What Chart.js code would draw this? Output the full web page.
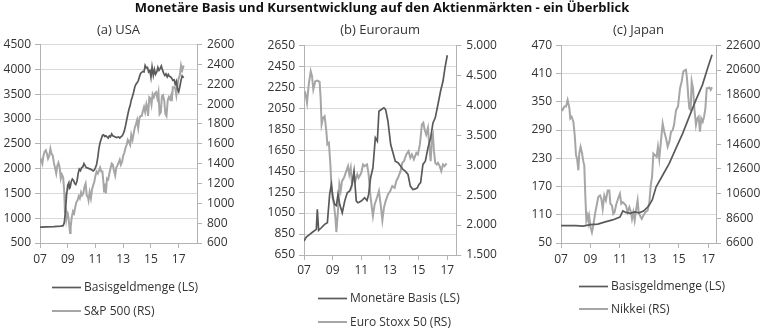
<!DOCTYPE html>
<html>
<head>
<meta charset="utf-8">
<script src="https://cdn.jsdelivr.net/npm/chart.js@4.4.1/dist/chart.umd.min.js"></script>
<style>
  body { margin: 0; background: #fff; width: 764px; height: 329px; overflow: hidden; position: relative; }
  #title { position: absolute; left: 0; top: 0; width: 764px; text-align: center;
           font: bold 13px "Open Sans", sans-serif; line-height: 15px; color: #111; z-index: 2; }
  canvas { position: absolute; top: 0; }
</style>
</head>
<body>
<div id="title">Monetäre Basis und Kursentwicklung auf den Aktienmärkten - ein Überblick</div>
<canvas id="cA" width="252" height="329" style="left:0px"></canvas>
<canvas id="cB" width="253" height="329" style="left:252px"></canvas>
<canvas id="cC" width="259" height="329" style="left:505px"></canvas>
<script>
// --- (a) USA ---
const usaBaseX = [2007.0, 2007.5, 2008.0, 2008.5, 2008.67, 2008.75, 2008.83, 2008.92, 2009.0, 2009.08, 2009.12, 2009.17, 2009.25, 2009.33, 2009.42, 2009.5, 2009.58, 2009.67, 2009.75, 2009.83, 2009.92, 2010.0, 2010.08, 2010.17, 2010.25, 2010.33, 2010.5, 2010.67, 2010.83, 2010.92, 2011.0, 2011.08, 2011.17, 2011.25, 2011.33, 2011.42, 2011.5, 2011.58, 2011.67, 2011.75, 2011.83, 2011.92, 2012.0, 2012.08, 2012.17, 2012.25, 2012.33, 2012.5, 2012.67, 2012.75, 2012.83, 2012.92, 2013.0, 2013.08, 2013.17, 2013.25, 2013.33, 2013.42, 2013.5, 2013.58, 2013.67, 2013.75, 2013.83, 2013.92, 2014.0, 2014.08, 2014.17, 2014.25, 2014.33, 2014.42, 2014.5, 2014.58, 2014.67, 2014.75, 2014.83, 2014.92, 2015.0, 2015.08, 2015.17, 2015.25, 2015.33, 2015.42, 2015.5, 2015.58, 2015.67, 2015.75, 2015.83, 2015.92, 2016.0, 2016.08, 2016.17, 2016.25, 2016.33, 2016.42, 2016.5, 2016.58, 2016.67, 2016.75, 2016.83, 2016.92, 2017.0, 2017.08, 2017.17, 2017.25, 2017.36];
const usaBase  = [820, 825, 830, 840, 850, 905, 1130, 1480, 1665, 1715, 1600, 1615, 1735, 1790, 1760, 1700, 1680, 1750, 1900, 1990, 1960, 2020, 2030, 2100, 2060, 2020, 2005, 1985, 1955, 1975, 2020, 2080, 2230, 2410, 2520, 2600, 2670, 2680, 2650, 2660, 2640, 2615, 2660, 2640, 2700, 2660, 2650, 2625, 2640, 2615, 2640, 2660, 2700, 2760, 2870, 2980, 3090, 3200, 3270, 3380, 3460, 3540, 3640, 3700, 3730, 3770, 3850, 3920, 3940, 3960, 3950, 4080, 4030, 4040, 3950, 3980, 3840, 4050, 3880, 4000, 3900, 3950, 4040, 3980, 4020, 4070, 3990, 3920, 3880, 3910, 3850, 3900, 3860, 3850, 3820, 3780, 3790, 3700, 3760, 3600, 3550, 3650, 3780, 3870, 3830];
const usaSpX = [2007.0, 2007.08, 2007.17, 2007.25, 2007.33, 2007.42, 2007.5, 2007.58, 2007.67, 2007.75, 2007.83, 2007.92, 2008.0, 2008.08, 2008.17, 2008.25, 2008.33, 2008.42, 2008.5, 2008.58, 2008.67, 2008.75, 2008.8, 2008.85, 2008.9, 2008.96, 2009.0, 2009.08, 2009.17, 2009.21, 2009.29, 2009.38, 2009.46, 2009.54, 2009.62, 2009.71, 2009.79, 2009.87, 2009.96, 2010.04, 2010.12, 2010.21, 2010.29, 2010.37, 2010.46, 2010.5, 2010.58, 2010.67, 2010.75, 2010.83, 2010.92, 2011.0, 2011.08, 2011.17, 2011.25, 2011.33, 2011.42, 2011.5, 2011.58, 2011.62, 2011.67, 2011.75, 2011.83, 2011.92, 2012.0, 2012.08, 2012.17, 2012.25, 2012.33, 2012.42, 2012.5, 2012.58, 2012.67, 2012.75, 2012.83, 2012.92, 2013.0, 2013.08, 2013.17, 2013.25, 2013.33, 2013.42, 2013.5, 2013.58, 2013.67, 2013.75, 2013.83, 2013.92, 2014.0, 2014.08, 2014.17, 2014.25, 2014.33, 2014.42, 2014.5, 2014.58, 2014.67, 2014.75, 2014.79, 2014.88, 2014.96, 2015.04, 2015.12, 2015.21, 2015.29, 2015.37, 2015.46, 2015.54, 2015.62, 2015.71, 2015.79, 2015.87, 2015.96, 2016.04, 2016.12, 2016.21, 2016.29, 2016.37, 2016.46, 2016.5, 2016.58, 2016.67, 2016.75, 2016.83, 2016.92, 2017.0, 2017.08, 2017.17, 2017.25, 2017.36];
const usaSp  = [1420, 1440, 1400, 1480, 1520, 1535, 1500, 1450, 1480, 1550, 1500, 1480, 1410, 1360, 1300, 1380, 1410, 1360, 1250, 1290, 1260, 1110, 900, 960, 850, 910, 900, 820, 700, 760, 860, 920, 900, 960, 1010, 1030, 1070, 1050, 1110, 1080, 1100, 1170, 1200, 1080, 1060, 1030, 1110, 1050, 1140, 1180, 1220, 1280, 1320, 1300, 1330, 1360, 1320, 1320, 1200, 1120, 1200, 1100, 1250, 1240, 1300, 1350, 1400, 1390, 1330, 1280, 1360, 1380, 1410, 1440, 1390, 1420, 1480, 1510, 1560, 1590, 1640, 1620, 1590, 1690, 1640, 1700, 1760, 1800, 1840, 1760, 1860, 1880, 1880, 1930, 1970, 1920, 2000, 1950, 1880, 2070, 2060, 1995, 2100, 2070, 2110, 2120, 2060, 2120, 1900, 1920, 2080, 2090, 2030, 1900, 1880, 2040, 2070, 2050, 2090, 2030, 2170, 2170, 2160, 2090, 2200, 2260, 2290, 2390, 2340, 2390];

// --- (b) Euroraum ---
const euBaseX = [2007.00, 2007.16, 2007.40, 2007.63, 2007.86, 2007.93, 2008.02, 2008.21, 2008.44, 2008.63, 2008.79, 2008.91, 2009.02, 2009.14, 2009.26, 2009.37, 2009.49, 2009.67, 2009.84, 2010.02, 2010.19, 2010.35, 2010.49, 2010.65, 2010.77, 2011.00, 2011.23, 2011.40, 2011.51, 2011.65, 2011.81, 2011.98, 2012.12, 2012.23, 2012.40, 2012.58, 2012.70, 2012.86, 2013.05, 2013.21, 2013.37, 2013.56, 2013.74, 2013.91, 2014.07, 2014.26, 2014.42, 2014.60, 2014.77, 2014.91, 2015.02, 2015.14, 2015.30, 2015.47, 2015.65, 2015.84, 2016.00, 2016.16, 2016.35, 2016.53, 2016.70, 2016.84, 2017.00];
const euBase  = [783, 821, 847, 872, 894, 1085, 885, 910, 942, 958, 1228, 1323, 1196, 1133, 1120, 1228, 1133, 1053, 1164, 1244, 1260, 1323, 1450, 1164, 1148, 1164, 1196, 1170, 1228, 1387, 1482, 1768, 1736, 2021, 2037, 2053, 2037, 1926, 1704, 1625, 1545, 1530, 1498, 1466, 1450, 1418, 1307, 1275, 1280, 1291, 1323, 1340, 1514, 1545, 1672, 1768, 1910, 1958, 2085, 2212, 2307, 2434, 2555];
const euStoxxX = [2007.00, 2007.09, 2007.21, 2007.33, 2007.47, 2007.56, 2007.65, 2007.79, 2007.93, 2008.09, 2008.16, 2008.23, 2008.33, 2008.44, 2008.56, 2008.63, 2008.74, 2008.84, 2008.91, 2009.00, 2009.09, 2009.19, 2009.26, 2009.37, 2009.47, 2009.56, 2009.65, 2009.79, 2009.95, 2010.07, 2010.16, 2010.26, 2010.35, 2010.49, 2010.58, 2010.72, 2010.81, 2011.00, 2011.12, 2011.23, 2011.40, 2011.51, 2011.65, 2011.81, 2011.93, 2012.09, 2012.23, 2012.35, 2012.47, 2012.58, 2012.70, 2012.86, 2013.02, 2013.16, 2013.33, 2013.44, 2013.56, 2013.74, 2013.86, 2013.98, 2014.14, 2014.30, 2014.42, 2014.53, 2014.67, 2014.84, 2014.95, 2015.09, 2015.23, 2015.33, 2015.42, 2015.53, 2015.65, 2015.74, 2015.84, 2015.93, 2016.00, 2016.07, 2016.16, 2016.26, 2016.35, 2016.47, 2016.58, 2016.70, 2016.81, 2016.95];
const euStoxx  = [4178, 4206, 4039, 4345, 4567, 4484, 4261, 4400, 4411, 4389, 4122, 3678, 3789, 3817, 3567, 3345, 3372, 3011, 2678, 2456, 2344, 2122, 1883, 2233, 2678, 2567, 2733, 2789, 2900, 2983, 2845, 2956, 2678, 2845, 2733, 2845, 2789, 2872, 3011, 2983, 3011, 2845, 2456, 2150, 2344, 2456, 2567, 2344, 2078, 2289, 2400, 2511, 2567, 2650, 2622, 2733, 2789, 2900, 3039, 3067, 3178, 3233, 3122, 3178, 3095, 3206, 3178, 3345, 3678, 3706, 3595, 3511, 3622, 3345, 3067, 3456, 3511, 3233, 3039, 3011, 3039, 2983, 2900, 3011, 2983, 3028];

// --- (c) Japan ---
const jpBaseX = [2007.00, 2007.5, 2008.0, 2008.5, 2009.0, 2009.5, 2010.0, 2010.5, 2011.0, 2011.2, 2011.4, 2011.7, 2012.0, 2012.3, 2012.6, 2012.9, 2013.0, 2013.2, 2013.45, 2013.9, 2014.35, 2014.8, 2015.26, 2015.7, 2016.16, 2016.6, 2016.95, 2017.25];
const jpBase  = [87, 87, 87, 86, 89, 90, 95, 99, 105, 118, 115, 113, 116, 114, 118, 127, 131, 142, 169, 194, 219, 251, 283, 318, 354, 386, 421, 450];
const jpNikkeiX = [2007.00, 2007.11, 2007.23, 2007.34, 2007.45, 2007.57, 2007.63, 2007.72, 2007.84, 2007.93, 2008.02, 2008.09, 2008.18, 2008.24, 2008.33, 2008.43, 2008.52, 2008.58, 2008.65, 2008.72, 2008.81, 2008.88, 2008.92, 2009.01, 2009.10, 2009.19, 2009.31, 2009.42, 2009.53, 2009.65, 2009.74, 2009.83, 2009.94, 2010.05, 2010.17, 2010.28, 2010.35, 2010.46, 2010.55, 2010.64, 2010.73, 2010.87, 2011.00, 2011.09, 2011.19, 2011.30, 2011.41, 2011.52, 2011.64, 2011.75, 2011.82, 2011.91, 2012.00, 2012.09, 2012.20, 2012.27, 2012.36, 2012.48, 2012.59, 2012.72, 2012.88, 2013.00, 2013.09, 2013.18, 2013.27, 2013.38, 2013.49, 2013.58, 2013.67, 2013.79, 2013.90, 2014.01, 2014.13, 2014.24, 2014.35, 2014.47, 2014.58, 2014.67, 2014.81, 2014.94, 2015.08, 2015.19, 2015.30, 2015.39, 2015.48, 2015.55, 2015.64, 2015.71, 2015.80, 2015.87, 2015.96, 2016.05, 2016.16, 2016.25, 2016.34, 2016.43, 2016.52, 2016.62, 2016.71, 2016.80, 2016.89, 2016.98, 2017.07, 2017.16, 2017.25];
const jpNikkei  = [17502, 17367, 17638, 17638, 18180, 17502, 16689, 16824, 16417, 15333, 13705, 13434, 12485, 13841, 14384, 13841, 13163, 12892, 10451, 8417, 8824, 8281, 8688, 7875, 7468, 8010, 8959, 9637, 10315, 10451, 10180, 9366, 10451, 10044, 10858, 10858, 9773, 9637, 8959, 9095, 9637, 10180, 10587, 9773, 9909, 9773, 9637, 9095, 9502, 9095, 8553, 9095, 8417, 9231, 10044, 9095, 8824, 8553, 8824, 9095, 9231, 9909, 11265, 11943, 13841, 13705, 13570, 14384, 13434, 14926, 16282, 15604, 15061, 14384, 14790, 15604, 15739, 16146, 17367, 17638, 19129, 19671, 20485, 20567, 20621, 19943, 18451, 17502, 17367, 19671, 19129, 17502, 16146, 16689, 16824, 15604, 16689, 16417, 16824, 17502, 19129, 19129, 19183, 18994, 19210];

const yearTicks = [2007, 2009, 2011, 2013, 2015, 2017];

const DARK = '#5a5a5a';
const LIGHT = '#a6a6a6';
const GRID = '#d9d9d9';
const AXIS = '#b3b3b3';

Chart.defaults.font.family = '"Open Sans", sans-serif';
Chart.defaults.font.size = 12;
Chart.defaults.color = '#333';

const dotThousands = v => String(v).replace(/\B(?=(\d{3})+(?!\d))/g, '.');
const toPoints = (xs, ys) => xs.map((x, i) => ({ x: x, y: ys[i] }));

// legend: one entry per row, line sample + label
const stackLegend = {
  id: 'stackLegend',
  afterDraw(chart, args, opts) {
    const ctx = chart.ctx;
    ctx.save();
    chart.data.datasets.forEach((ds, i) => {
      const y = opts.y + i * opts.gap;
      ctx.strokeStyle = ds.borderColor;
      ctx.lineWidth = ds.borderWidth;
      ctx.beginPath();
      ctx.moveTo(opts.x, y);
      ctx.lineTo(opts.x + 29, y);
      ctx.stroke();
      ctx.fillStyle = '#333';
      ctx.font = '12px "Open Sans", sans-serif';
      ctx.textBaseline = 'middle';
      ctx.textAlign = 'left';
      ctx.fillText(ds.label, opts.x + 32, y + 0.5);
    });
    ctx.restore();
  }
};

function panel(id, p) {
  return new Chart(document.getElementById(id), {
    type: 'line',
    data: {
      datasets: [{
        label: p.names[0],
        data: toPoints(p.lx, p.ly),
        yAxisID: 'yL',
        borderColor: DARK,
        borderWidth: 1.7
      }, {
        label: p.names[1],
        data: toPoints(p.rx, p.ry),
        yAxisID: 'yR',
        borderColor: LIGHT,
        borderWidth: 2
      }]
    },
    options: {
      responsive: false,
      animation: false,
      elements: { point: { radius: 0 }, line: { tension: 0 } },
      layout: { padding: { top: 0, bottom: p.padBottom, left: 0, right: 0 } },
      plugins: {
        legend: { display: false },
        tooltip: { enabled: false },
        title: {
          display: true,
          text: p.title,
          fullSize: false,
          color: '#333',
          font: { size: 13, weight: 'normal' },
          padding: { top: 22, bottom: p.titleBottom }
        },
        stackLegend: p.legend
      },
      scales: {
        x: {
          type: 'linear',
          min: 2007,
          max: p.xMax,
          afterBuildTicks: s => { s.ticks = yearTicks.map(v => ({ value: v })); },
          afterFit: s => { s.height = 24; },
          ticks: {
            padding: p.xPad,
            autoSkip: false,
            maxRotation: 0,
            callback: v => String(v).slice(2)
          },
          grid: { drawOnChartArea: false, tickLength: 5, tickColor: AXIS },
          border: { color: AXIS }
        },
        yL: {
          position: 'left',
          min: p.left.min,
          max: p.left.max,
          afterBuildTicks: s => {
            const t = [];
            for (let v = p.left.min; v <= p.left.max; v += p.left.step) t.push({ value: v });
            s.ticks = t;
          },
          afterFit: s => { s.width = p.left.width; },
          ticks: { padding: 4, callback: v => String(v) },
          grid: { color: GRID, tickLength: 5, tickColor: AXIS },
          border: { color: AXIS }
        },
        yR: {
          position: 'right',
          min: p.right.min,
          max: p.right.max,
          afterBuildTicks: s => {
            const t = [];
            for (let v = p.right.min; v <= p.right.max; v += p.right.step) t.push({ value: v });
            s.ticks = t;
          },
          afterFit: s => { s.width = p.right.width; },
          ticks: { padding: 5, callback: p.right.fmt || (v => String(v)) },
          grid: { drawOnChartArea: false, tickLength: 5, tickColor: AXIS },
          border: { color: AXIS }
        }
      }
    },
    plugins: [stackLegend]
  });
}

panel('cA', {
  title: '(a) USA',
  names: ['Basisgeldmenge (LS)', 'S&P 500 (RS)'],
  lx: usaBaseX, ly: usaBase, rx: usaSpX, ry: usaSp,
  xMax: 2018.32,
  left: { min: 500, max: 4500, step: 500, width: 40 },
  right: { min: 600, max: 2600, step: 200, width: 55 },
  padBottom: 62, titleBottom: 7, xPad: 4,
  legend: { x: 52, y: 287.5, gap: 23.5 }
});

panel('cB', {
  title: '(b) Euroraum',
  names: ['Monetäre Basis (LS)', 'Euro Stoxx 50 (RS)'],
  lx: euBaseX, ly: euBase, rx: euStoxxX, ry: euStoxx,
  xMax: 2017.63,
  left: { min: 650, max: 2650, step: 200, width: 52 },
  right: { min: 1500, max: 5000, step: 500, width: 48.7, fmt: v => dotThousands(v) },
  padBottom: 50, titleBottom: 7.7, xPad: 3,
  legend: { x: 66, y: 298.5, gap: 23.5 }
});

panel('cC', {
  title: '(c) Japan',
  names: ['Basisgeldmenge (LS)', 'Nikkei (RS)'],
  lx: jpBaseX, ly: jpBase, rx: jpNikkeiX, ry: jpNikkei,
  xMax: 2017.52,
  left: { min: 50, max: 470, step: 60, width: 56 },
  right: { min: 6600, max: 22600, step: 2000, width: 48 },
  padBottom: 62, titleBottom: 7.7, xPad: 4,
  legend: { x: 74, y: 286.5, gap: 22.5 }
});
</script>
</body>
</html>
